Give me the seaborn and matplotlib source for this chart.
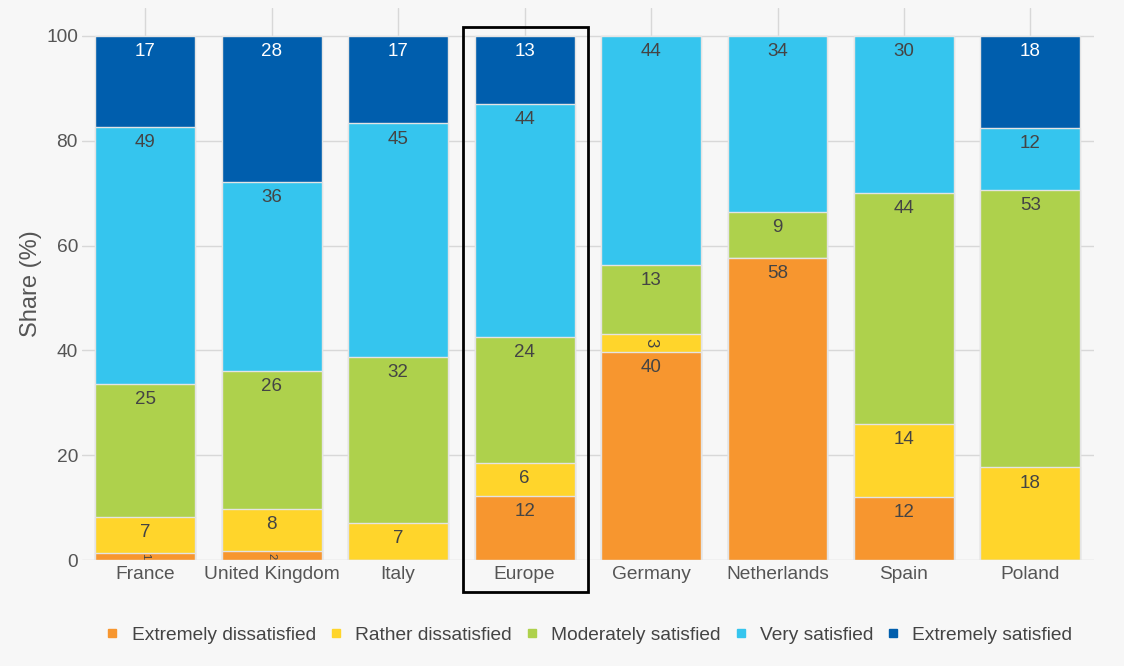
import matplotlib
matplotlib.use("Agg")
import matplotlib.pyplot as plt
import seaborn as sns
import numpy as np
import pandas as pd
from matplotlib.lines import Line2D
from matplotlib.patches import Rectangle

countries = ["France", "United Kingdom", "Italy", "Europe", "Germany", "Netherlands", "Spain", "Poland"]
series_names = ["Extremely dissatisfied", "Rather dissatisfied", "Moderately satisfied",
                "Very satisfied", "Extremely satisfied"]
extremely_dissatisfied = [1.4, 1.7, 0.0, 12.2, 39.7, 57.6, 12.0, 0.0]
rather_dissatisfied = [6.8, 8.0, 7.1, 6.4, 3.4, 0.0, 14.0, 17.7]
moderately_satisfied = [25.4, 26.4, 31.6, 24.0, 13.2, 8.8, 44.0, 52.9]
very_satisfied = [49.0, 36.1, 44.6, 44.4, 43.7, 33.6, 30.0, 11.8]
extremely_satisfied = [17.4, 27.8, 16.7, 13.0, 0.0, 0.0, 0.0, 17.6]
colors = ["#F7962F", "#FFD52B", "#AED14C", "#35C5EE", "#005EAD"]
y_ticks = [0, 20, 40, 60, 80, 100]

series = [extremely_dissatisfied, rather_dissatisfied, moderately_satisfied,
          very_satisfied, extremely_satisfied]

sns.set_theme(style="white")
plt.rcParams["font.family"] = ["Liberation Sans", "DejaVu Sans"]

bg = "#F7F7F7"
fig = plt.figure(figsize=(11.24, 6.66), dpi=100, facecolor=bg)
ax = fig.add_axes([0.073, 0.159, 0.9, 0.829])
ax.set_facecolor(bg)

vals = np.array(series)  # shape (5, n)
cum = np.cumsum(vals, axis=0)

# draw cumulative bars from top to bottom so each layer overlays the previous
for i in range(len(series) - 1, -1, -1):
    df = pd.DataFrame({"country": countries, "value": cum[i]})
    sns.barplot(data=df, x="country", y="value", order=countries, color=colors[i],
                saturation=1, width=0.79, errorbar=None, edgecolor="#E4E4E4",
                linewidth=1, ax=ax, zorder=2)

# labels
for i in range(len(series)):
    for j, c in enumerate(countries):
        v = vals[i, j]
        if v <= 0:
            continue
        top = cum[i, j]
        lbl = f"{int(v + 0.5):d}"
        tc = "white" if i == 4 else "#444444"
        if v < 5:
            ax.text(j, top - v / 2, lbl, ha="center", va="center", rotation=-90,
                    fontsize=8 if v < 3 else 12, color=tc, zorder=5)
        else:
            ax.text(j, top - 3.0, lbl, ha="center", va="center", fontsize=13.5,
                    color=tc, zorder=5)

ax.set_xlim(-0.5, len(countries) - 0.5)
ax.set_ylim(0, 105.3)
ax.set_yticks(y_ticks)
ax.set_yticklabels([str(t) for t in y_ticks], fontsize=13.8, color="#555555")
ax.set_xticks(range(len(countries)))
ax.set_xticklabels(countries, fontsize=13.8, color="#555555")
ax.tick_params(axis="both", length=0)
ax.tick_params(axis="y", pad=3)
ax.tick_params(axis="x", pad=4)
ax.set_axisbelow(True)
ax.grid(True, axis="both", color="#D8D8D8", linewidth=1)
for s in ax.spines.values():
    s.set_visible(False)
ax.set_xlabel("")
ax.set_ylabel("Share (%)", fontsize=17, color="#555555", labelpad=3)

# highlight box around Europe
ei = countries.index("Europe")
rect = Rectangle((ei - 0.49, -6.1), 0.99, 107.8, fill=False, edgecolor="black",
                 linewidth=2, clip_on=False, zorder=6)
ax.add_patch(rect)

handles = [Line2D([0], [0], marker="s", linestyle="none", markersize=6,
                  markerfacecolor=colors[i], markeredgecolor=colors[i])
           for i in range(len(series_names))]
fig.legend(handles, series_names, loc="center", bbox_to_anchor=(0.5236, 0.0465),
           ncol=5, frameon=False, fontsize=13.8, handlelength=0.8, handletextpad=0.6,
           columnspacing=0.65, labelcolor="#444444")

fig.savefig("out.png", dpi=100, facecolor=bg)
